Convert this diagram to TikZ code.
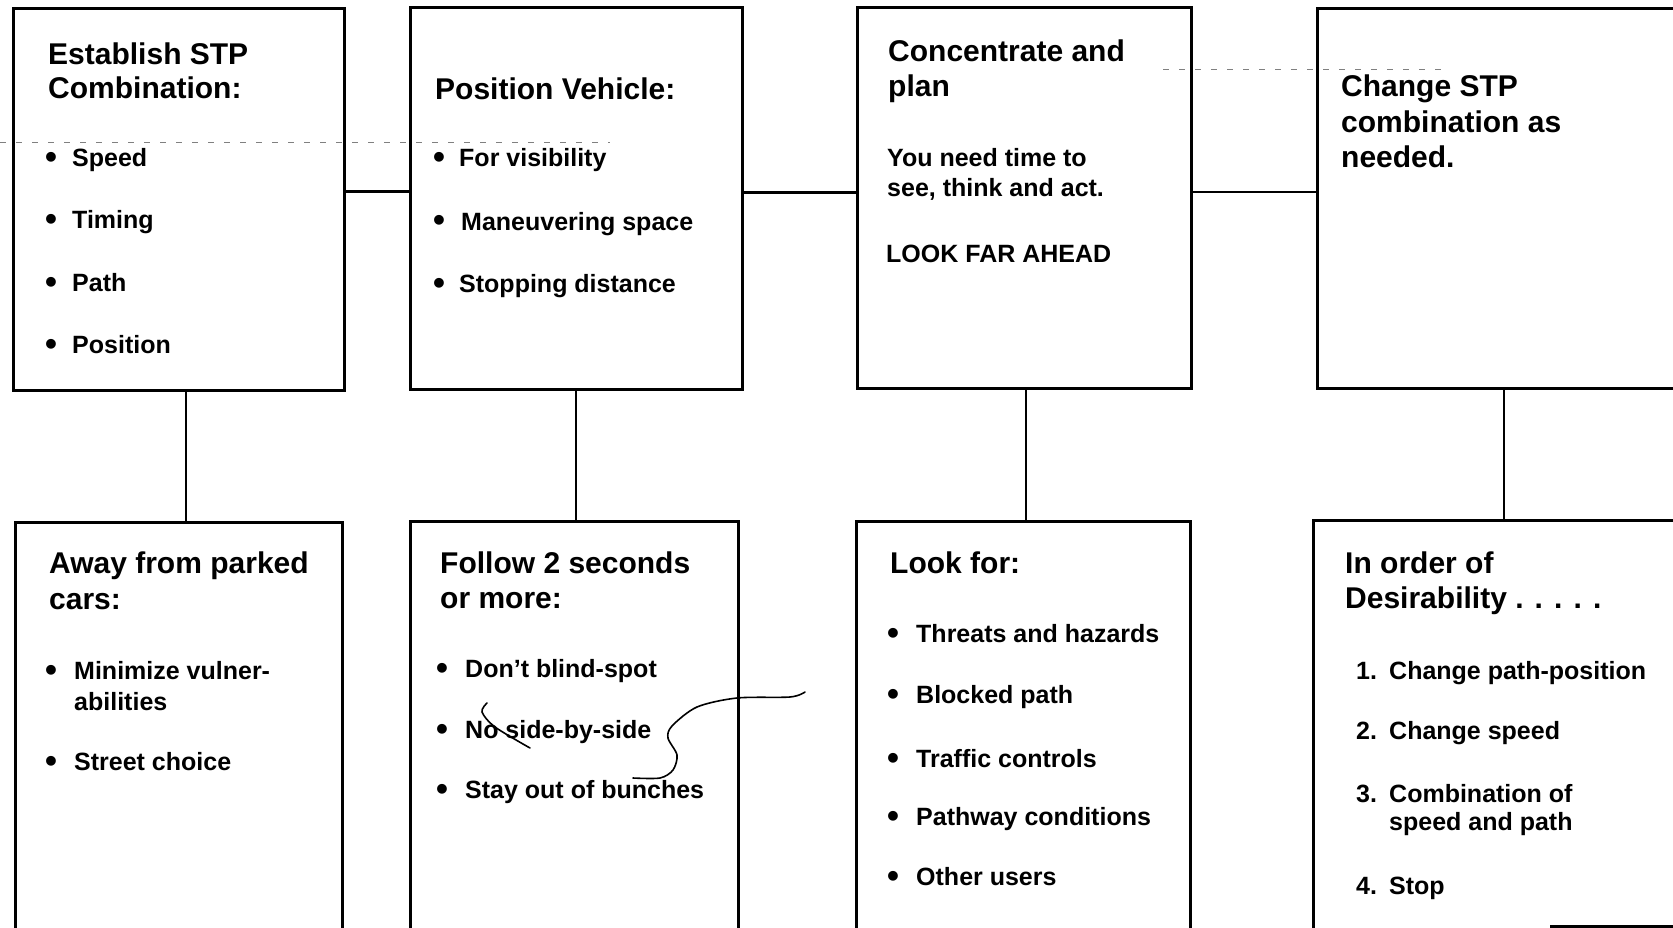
\documentclass[tikz,border=0pt]{standalone}
\usepackage{fontspec}
\setmainfont{Liberation Sans}
\begin{document}
\begin{tikzpicture}[x=1pt,y=-1pt,
  box/.style={draw, line width=3pt, anchor=north west, inner sep=0pt, outer sep=0pt},
  conn/.style={line width=2.8pt},
  ttl/.style={anchor=base west, inner sep=0pt, font=\fontsize{30}{36}\selectfont\bfseries},
  txt/.style={anchor=base west, inner sep=0pt, font=\fontsize{25}{30}\selectfont\bfseries},
  bul/.style={anchor=base west, inner sep=0pt, font=\fontsize{34}{34}\selectfont\bfseries},
  scan/.style={line width=1pt, dash pattern=on 6pt off 10pt, gray},
  pen/.style={line width=1.6pt, line cap=round, line join=round}]
\useasboundingbox (0,0) rectangle (1673,928);
\clip (0,0) rectangle (1673,928);

% boxes
\node[box, minimum width=331pt, minimum height=381pt] (b1) at (13,9) {};
\node[box, minimum width=332pt, minimum height=381pt] (b2) at (410,8) {};
\node[box, minimum width=334pt, minimum height=380pt] (b3) at (857,8) {};
\node[box, minimum width=420pt, minimum height=379pt] (b4) at (1317,9) {};
\node[box, minimum width=327pt, minimum height=450pt] (b5) at (15,522) {};
\node[box, minimum width=328pt, minimum height=450pt] (b6) at (410,521) {};
\node[box, minimum width=334pt, minimum height=450pt] (b7) at (856,521) {};
\node[box, minimum width=420pt, minimum height=450pt] (b8) at (1313,520) {};

% connectors
\draw[conn] ([yshift=8pt]b1.east) -- ([yshift=8pt]b1.east -| b2.west);
\draw[conn] ([yshift=6pt]b2.east) -- ([yshift=6pt]b2.east -| b3.west);
\draw[conn] ([yshift=6pt]b3.east) -- ([yshift=6pt]b3.east -| b4.west);
\draw[conn] ([xshift=7.5pt]b1.south) -- ([xshift=7.5pt]b1.south |- b5.north);
\draw[conn] (b2.south) -- (b2.south |- b6.north);
\draw[conn] ([xshift=2pt]b3.south) -- ([xshift=2pt]b3.south |- b7.north);
\draw[conn] ([xshift=-23pt]b4.south) -- ([xshift=-23pt]b4.south |- b8.north);

% box 1
\node[ttl] (t1a) at (48,65) {Establish STP};
\node[ttl] (t1b) at (48,99) {Combination:};
\node[bul] (d1a) at (45,169) {•}; \node[txt] (t1c) at (72,167) {Speed};
\node[bul] (d1b) at (45,231) {•}; \node[txt] (t1d) at (72,229) {Timing};
\node[bul] (d1c) at (45,293) {•}; \node[txt] (t1e) at (72,291) {Path};
\node[bul] (d1d) at (45,355) {•}; \node[txt] (t1f) at (72,353) {Position};

% box 2
\node[ttl] (t2a) at (435,100) {Position Vehicle:};
\node[bul] (d2a) at (433,169) {•}; \node[txt] (t2b) at (459,167) {For visibility};
\node[bul] (d2b) at (433,232) {•}; \node[txt] (t2c) at (461,230) {Maneuvering space};
\node[bul] (d2c) at (433,294) {•}; \node[txt] (t2d) at (459,292) {Stopping distance};

% box 3
\node[ttl] (t3a) at (888,62) {Concentrate and};
\node[ttl] (t3b) at (888,97) {plan};
\node[txt] (t3c) at (887,167) {You need time to};
\node[txt] (t3d) at (887,197) {see, think and act.};
\node[txt] (t3e) at (886,262) {LOOK FAR AHEAD};

% box 4
\node[ttl] (t4a) at (1341,97) {Change STP};
\node[ttl] (t4b) at (1341,133) {combination as};
\node[ttl] (t4c) at (1341,168) {needed.};

% box 5
\node[ttl] (t5a) at (49,573) {Away from parked};
\node[ttl] (t5b) at (49,609) {cars:};
\node[bul] (d5a) at (45,681) {•}; \node[txt] (t5c) at (74,679) {Minimize vulner-};
\node[txt] (t5d) at (74,710) {abilities};
\node[bul] (d5b) at (45,772) {•}; \node[txt] (t5e) at (74,770) {Street choice};

% box 6
\node[ttl] (t6a) at (440,573) {Follow 2 seconds};
\node[ttl] (t6b) at (440,608) {or more:};
\node[bul] (d6a) at (436,679) {•}; \node[txt] (t6c) at (465,677) {Don't blind-spot};
\node[bul] (d6b) at (436,740) {•}; \node[txt] (t6d) at (465,738) {No side-by-side};
\node[bul] (d6c) at (436,800) {•}; \node[txt] (t6e) at (465,798) {Stay out of bunches};

% box 7
\node[ttl] (t7a) at (890,573) {Look for:};
\node[bul] (d7a) at (887,644) {•}; \node[txt] (t7b) at (916,642) {Threats and hazards};
\node[bul] (d7b) at (887,705) {•}; \node[txt] (t7c) at (916,703) {Blocked path};
\node[bul] (d7c) at (887,769) {•}; \node[txt] (t7d) at (916,767) {Traffic controls};
\node[bul] (d7d) at (887,827) {•}; \node[txt] (t7e) at (916,825) {Pathway conditions};
\node[bul] (d7e) at (887,887) {•}; \node[txt] (t7f) at (916,885) {Other users};

% box 8
\node[ttl] (t8a) at (1345,573) {In order of};
\node[ttl] (t8b) at (1345,608) {Desirability . . . . .};
\node[txt] (n8a) at (1356,679) {1.}; \node[txt] (t8c) at (1389,679) {Change path-position};
\node[txt] (n8b) at (1356,739) {2.}; \node[txt] (t8d) at (1389,739) {Change speed};
\node[txt] (n8c) at (1356,802) {3.}; \node[txt] (t8e) at (1389,802) {Combination of};
\node[txt] (t8f) at (1389,830) {speed and path};
\node[txt] (n8d) at (1356,894) {4.}; \node[txt] (t8g) at (1389,894) {Stop};

% scan marks
\draw[scan] (0,143) -- (610,143);
\draw[scan] (1163,70) -- (1450,70);
\draw[line width=2.5pt] (1550,926.5) -- (1673,926.5);

% hand-drawn pen strokes
\draw[pen] plot[smooth] coordinates {(487,703) (482,712) (495,727) (530,748)};
\draw[pen] plot[smooth] coordinates {(805,692) (790,697) (737,698) (697,707) (672,726) (668,738) (677,755) (673,770) (660,778) (633,778)};
\end{tikzpicture}
\end{document}
